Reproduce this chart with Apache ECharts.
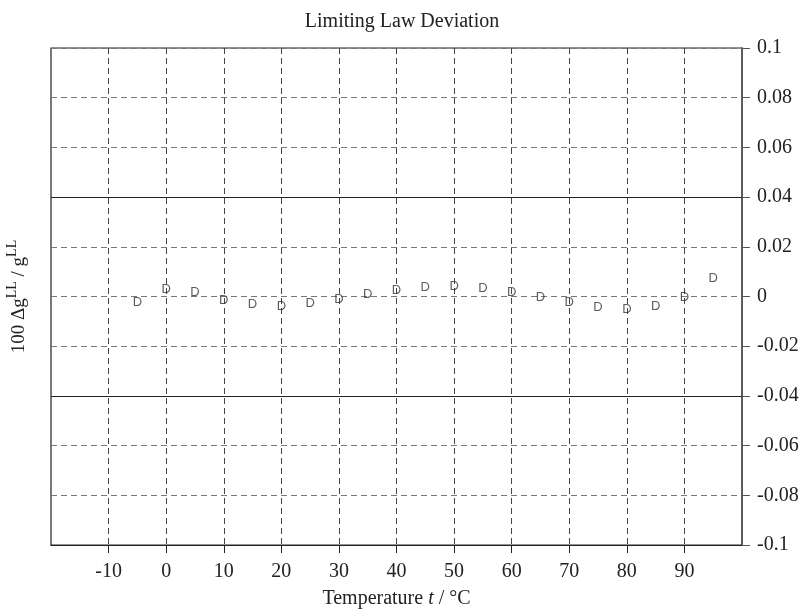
<!DOCTYPE html>
<html>
<head>
<meta charset="utf-8">
<script src="https://cdn.jsdelivr.net/npm/echarts@6/dist/echarts.min.js"></script>
<style>
  html, body { margin: 0; padding: 0; background: #fff; }
  #chart { width: 804px; height: 611px; }
</style>
</head>
<body>
<div id="chart"></div>
<script>
// data
const temps = [-5, 0, 5, 10, 15, 20, 25, 30, 35, 40, 45, 50, 55, 60, 65, 70, 75, 80, 85, 90, 95];
const deviation = [-0.0023, 0.0030, 0.0015, -0.0014, -0.0031, -0.0038, -0.0027, -0.0011, 0.0010, 0.0025,
  0.0037, 0.0042, 0.0031, 0.0018, -0.0002, -0.0025, -0.0044, -0.0052, -0.0041, -0.0005, 0.0072];
const xTicks = [-10, 0, 10, 20, 30, 40, 50, 60, 70, 80, 90];
const solidLevels = [0.04, -0.04];

const serif = '"Liberation Serif", "DejaVu Serif", serif';

let chart = echarts.init(document.getElementById('chart'));
let option = {
  backgroundColor: '#fff',
  animation: false,
  title: {
    text: 'Limiting Law Deviation',
    left: 397, top: 7, textAlign: 'center',
    textStyle: { fontFamily: serif, fontSize: 20, fontWeight: 'normal', color: '#222' }
  },
  grid: {
    left: 51, right: 62, top: 48, bottom: 66,
    outerBoundsMode: 'none',
    show: true, borderColor: '#222', borderWidth: 1.2
  },
  xAxis: {
    type: 'value',
    min: -20, max: 100, interval: 10,
    name: '{n|Temperature }{i|t}{n| / °C}',
    nameLocation: 'middle',
    nameGap: 44,
    nameTextStyle: {
      rich: {
        n: { fontFamily: serif, fontSize: 20, color: '#222' },
        i: { fontFamily: serif, fontSize: 20, fontStyle: 'italic', color: '#222' }
      }
    },
    axisLine: { onZero: false, lineStyle: { color: '#222', width: 1.2 } },
    axisTick: { show: true, inside: false, length: 8, customValues: xTicks, lineStyle: { color: '#222' } },
    axisLabel: {
      customValues: xTicks,
      margin: 17,
      fontFamily: serif, fontSize: 20, color: '#222'
    },
    splitLine: { show: true, lineStyle: { color: '#444', type: [6, 4], width: 1 } }
  },
  yAxis: [
    {
      type: 'value',
      position: 'right',
      min: -0.1, max: 0.1, interval: 0.02,
      axisLine: { show: true, onZero: false, lineStyle: { color: '#555', width: 1.6 } },
      axisTick: { show: true, inside: false, length: 8, lineStyle: { color: '#555' } },
      axisLabel: {
        margin: 15,
        fontFamily: serif, fontSize: 20, color: '#222',
        formatter: v => String(Math.round(v * 100) / 100)
      },
      splitLine: { show: true, lineStyle: { color: '#777', type: [6, 4], width: 1 } }
    },
    {
      type: 'value',
      position: 'left',
      min: -0.1, max: 0.1,
      name: '{n|100 Δg}{s|LL}{n| / g}{s|LL}',
      nameLocation: 'middle',
      nameRotate: 90,
      nameGap: 22,
      nameTextStyle: {
        rich: {
          n: { fontFamily: serif, fontSize: 19, color: '#222', verticalAlign: 'bottom', lineHeight: 24 },
          s: { fontFamily: serif, fontSize: 14, color: '#222', verticalAlign: 'top', lineHeight: 24 }
        }
      },
      axisLine: { show: false, onZero: false },
      axisTick: { show: false },
      axisLabel: { show: false },
      splitLine: { show: false }
    }
  ],
  series: [
    {
      type: 'scatter',
      yAxisIndex: 0,
      data: temps.map((t, i) => [t, deviation[i]]),
      symbol: 'circle',
      symbolSize: 1,
      itemStyle: { color: 'rgba(0,0,0,0)' },
      label: {
        show: true,
        position: 'inside',
        formatter: 'D',
        fontFamily: '"Liberation Sans", Arial, sans-serif',
        fontSize: 13,
        color: '#333'
      },
      markLine: {
        silent: true,
        symbol: 'none',
        label: { show: false },
        lineStyle: { color: '#222', type: 'solid', width: 1.2 },
        data: solidLevels.map(v => ({ yAxis: v }))
      },
      z: 5
    }
  ]
};
chart.setOption(option);
</script>
</body>
</html>
